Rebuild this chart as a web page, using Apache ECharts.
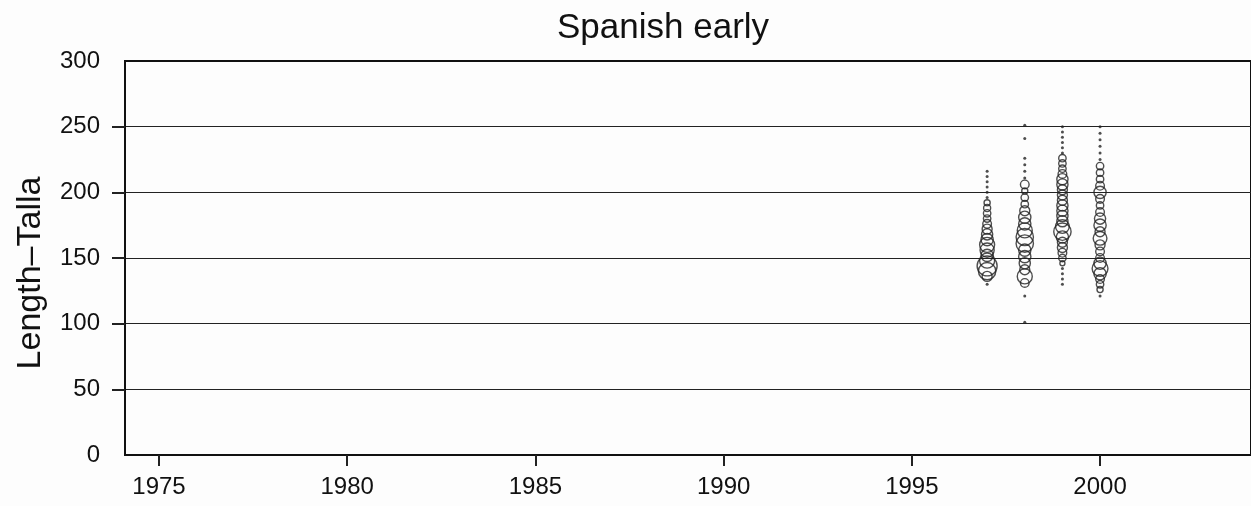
<!DOCTYPE html>
<html><head><meta charset="utf-8">
<script src="https://cdn.jsdelivr.net/npm/echarts@6/dist/echarts.min.js"></script>
<style>html,body{margin:0;padding:0;background:#fdfdfd}#c{width:1251px;height:506px}</style>
</head><body><div id="c"></div>
<script>
const title = "Spanish early";
const yName = "Length\u2013Talla";
const xTicks = [1975, 1980, 1985, 1990, 1995, 2000];
const yTicks = [0, 50, 100, 150, 200, 250, 300];
const years = [1997, 1998, 1999, 2000];
// circles: [length, relative frequency]
const circles1997 = [[192,1.5],[188,2],[184,2.2],[180,2.2],[176,3],[172,4],[168,5],[164,6],[160,9],[156,8],[152,6],[148,9],[144,16],[140,12],[136,4]];
const dots1997 = [216,212,208,204,200,196,130];
const circles1998 = [[206,3],[201,1.5],[196,2.2],[191,2.2],[186,4],[181,6],[176,6],[171,9],[166,12],[161,12],[156,6],[151,6],[146,5],[141,4],[136,9],[131,3]];
const dots1998 = [251,241,226,221,216,211,121,101];
const circles1999 = [[226,2.2],[222,2.2],[218,2.2],[214,3],[210,5],[206,5],[202,4],[198,4],[194,4],[190,5],[186,5],[182,5],[178,5],[174,7.5],[170,12],[166,6],[162,4],[158,4],[154,3],[150,2.2],[146,1]];
const dots1999 = [250,246,242,238,234,230,142,138,134,130];
const circles2000 = [[220,2.2],[215,2.2],[210,2.2],[205,3],[200,6],[195,3],[190,2.2],[185,3],[180,5],[175,6],[170,4],[165,7.5],[160,4],[155,3],[150,3],[146,6],[142,10],[138,6],[134,3],[130,2.2],[126,1.5]];
const dots2000 = [250,245,240,235,230,225,121];

const circleSets = [circles1997, circles1998, circles1999, circles2000];
const dotSets = [dots1997, dots1998, dots1999, dots2000];

const circleData = [], dotData = [];
years.forEach((y, i) => {
  circleSets[i].forEach(c => circleData.push([y, c[0], c[1]]));
  dotSets[i].forEach(d => dotData.push([y, d]));
});

const chart = echarts.init(document.getElementById('c'), null, {renderer: 'canvas'});
const font = '"Liberation Sans", Arial, sans-serif';
chart.setOption({
  backgroundColor: '#fdfdfd',
  animation: false,
  title: {text: title, left: 552, top: 6, textStyle: {fontFamily: font, fontSize: 35, fontWeight: 'normal', color: '#111'}},
  graphic: [{
    type: 'text', x: 31, y: 273, rotation: Math.PI / 2,
    style: {text: yName, fontFamily: font, fontSize: 34, fill: '#111', align: 'center', verticalAlign: 'middle'}
  }],
  grid: {left: 125, right: 0, top: 61, bottom: 51, show: true, borderColor: '#111', borderWidth: 2, backgroundColor: '#fdfdfd'},
  xAxis: {
    type: 'value', min: 1974.097, max: 2004.01,
    axisLine: {show: true, onZero: false, lineStyle: {color: '#111', width: 2}},
    axisTick: {show: true, customValues: xTicks, length: 11, lineStyle: {color: '#222', width: 2}},
    axisLabel: {customValues: xTicks, margin: 20, formatter: v => String(v), fontFamily: font, fontSize: 24, color: '#111'},
    splitLine: {show: false}
  },
  yAxis: {
    type: 'value', min: 0, max: 300, interval: 50,
    axisLine: {show: true, lineStyle: {color: '#111', width: 2}},
    axisTick: {show: true, customValues: [50,100,150,200,250], length: 13, lineStyle: {color: '#222', width: 2}},
    axisLabel: {customValues: yTicks, margin: 25, formatter: v => String(v), fontFamily: font, fontSize: 24, color: '#111'},
    splitLine: {show: true, lineStyle: {color: '#222', width: 1.2}}
  },
  series: [
    {type: 'scatter', data: circleData, symbol: 'circle',
     symbolSize: v => 5 * Math.sqrt(v[2]),
     itemStyle: {color: 'rgba(255,255,255,0)', borderColor: '#222', borderWidth: 1.4}},
    {type: 'scatter', data: dotData, symbol: 'circle', symbolSize: 3,
     itemStyle: {color: '#222'}}
  ]
});
</script></body></html>
